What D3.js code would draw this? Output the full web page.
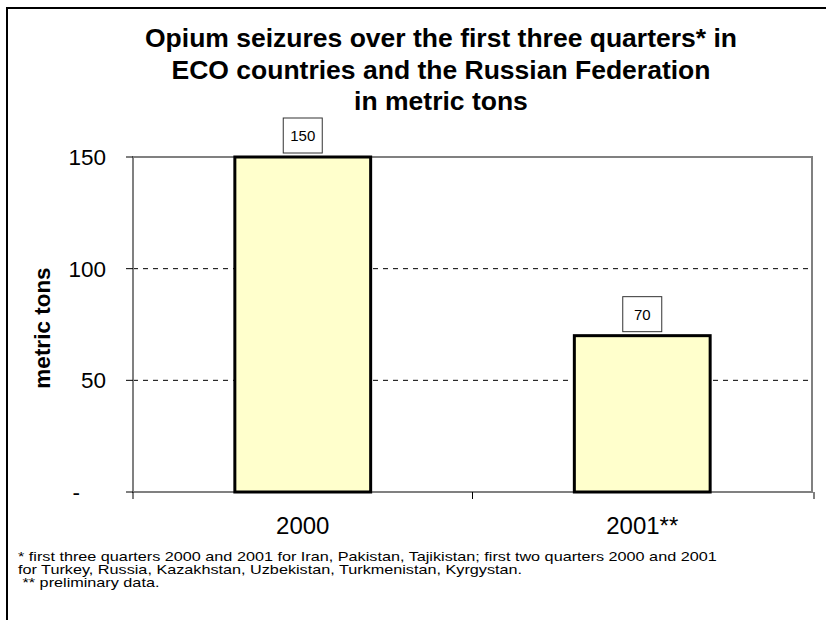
<!DOCTYPE html>
<html>
<head>
<meta charset="utf-8">
<script src="https://cdn.jsdelivr.net/npm/d3@7"></script>
<style>
  body { margin: 0; background: #fff; }
  text { font-family: Arial, "Liberation Sans", sans-serif; }
</style>
</head>
<body>
<div id="chart"></div>
<script>
// Dades
const years = ["2000", "2001**"];
const seizures = [150, 70];
const yTicks = [0, 50, 100, 150];
const titleLines = [
    "Opium seizures over the first three quarters* in",
    "ECO countries and the Russian Federation",
    "in metric tons"
];
const footnotes = [
    "* first three quarters 2000 and 2001 for Iran, Pakistan, Tajikistan; first two quarters 2000 and 2001",
    "for Turkey, Russia, Kazakhstan, Uzbekistan, Turkmenistan, Kyrgystan.",
    " ** preliminary data."
];

const W = 826, H = 620;
const plot = { left: 133, top: 157, right: 812, bottom: 492 };

const svg = d3.select("#chart")
    .append("svg")
        .attr("width", W)
        .attr("height", H);

// Marc exterior
svg.append("rect")
    .attr("x", 7).attr("y", 8)
    .attr("width", 840).attr("height", 640)
    .attr("fill", "none")
    .attr("stroke", "#000")
    .attr("stroke-width", 2);

// Escales
const x = d3.scaleBand()
    .domain(years)
    .range([plot.left, plot.right])
    .paddingInner(0)
    .paddingOuter(0);

const y = d3.scaleLinear()
    .domain([0, 150])
    .range([plot.bottom, plot.top]);

const barW = x.bandwidth() * 0.4;

// Línies de graella
svg.selectAll("line.grid")
    .data(yTicks.filter(d => d > 0 && d < 150))
    .enter()
    .append("line")
        .attr("class", "grid")
        .attr("x1", plot.left).attr("x2", plot.right)
        .attr("y1", d => y(d)).attr("y2", d => y(d))
        .attr("stroke", "#000")
        .attr("stroke-width", 1)
        .attr("stroke-dasharray", "5,5");

// Vora de l'àrea del gràfic
svg.append("rect")
    .attr("x", plot.left).attr("y", plot.top)
    .attr("width", plot.right - plot.left)
    .attr("height", plot.bottom - plot.top)
    .attr("fill", "none")
    .attr("stroke", "#808080")
    .attr("stroke-width", 2);

// Barres
svg.selectAll("rect.bar")
    .data(seizures)
    .enter()
    .append("rect")
        .attr("class", "bar")
        .attr("x", (d, i) => x(years[i]) + x.bandwidth() / 2 - barW / 2)
        .attr("y", d => y(d))
        .attr("width", barW)
        .attr("height", d => y(0) - y(d))
        .attr("fill", "#FFFFCC")
        .attr("stroke", "#000")
        .attr("stroke-width", 3);

// Etiquetes de valor amb caixa
const labels = svg.selectAll("g.lbl")
    .data(seizures)
    .enter()
    .append("g")
        .attr("class", "lbl")
        .attr("transform", (d, i) => `translate(${x(years[i]) + x.bandwidth() / 2}, ${y(d) - 4})`);

labels.append("rect")
    .attr("x", -19.5).attr("y", -35)
    .attr("width", 39).attr("height", 35)
    .attr("fill", "#fff")
    .attr("stroke", "#333")
    .attr("stroke-width", 1);

labels.append("text")
    .attr("x", 0).attr("y", -12)
    .attr("text-anchor", "middle")
    .style("font-size", "15px")
    .text(d => d);

// Eix Y
const yAxis = svg.append("g")
    .attr("transform", `translate(${plot.left}, 0)`);

yAxis.selectAll("line")
    .data(yTicks)
    .enter()
    .append("line")
        .attr("x1", -7).attr("x2", 0)
        .attr("y1", d => y(d)).attr("y2", d => y(d))
        .attr("stroke", "#000");

// el zero es mostra com un guió, no alineat a la dreta
yAxis.selectAll("text")
    .data(yTicks)
    .enter()
    .append("text")
        .attr("x", d => d === 0 ? -53 : -27)
        .attr("y", d => y(d) + 8)
        .attr("text-anchor", "end")
        .style("font-size", "22.5px")
        .text(d => d === 0 ? "-" : d);

// Eix X
const xTickPos = [plot.left, plot.left + x.bandwidth(), plot.right + 2];
svg.selectAll("line.xtick")
    .data(xTickPos)
    .enter()
    .append("line")
        .attr("class", "xtick")
        .attr("x1", d => d).attr("x2", d => d)
        .attr("y1", plot.bottom).attr("y2", plot.bottom + 7)
        .attr("stroke", "#000");

svg.selectAll("text.xlab")
    .data(years)
    .enter()
    .append("text")
        .attr("class", "xlab")
        .attr("x", d => x(d) + x.bandwidth() / 2)
        .attr("y", 534)
        .attr("text-anchor", "middle")
        .style("font-size", "24px")
        .text(d => d);

// Títol de l'eix Y
svg.append("text")
    .attr("transform", "translate(50, 328) rotate(-90)")
    .attr("text-anchor", "middle")
    .style("font-size", "22.5px")
    .style("font-weight", "bold")
    .text("metric tons");

// Títol
svg.selectAll("text.title")
    .data(titleLines)
    .enter()
    .append("text")
        .attr("class", "title")
        .attr("x", 441)
        .attr("y", (d, i) => 47 + i * 31.5)
        .attr("text-anchor", "middle")
        .style("font-size", "26.5px")
        .style("font-weight", "bold")
        .text(d => d);

// Notes al peu (estirades horitzontalment per ajustar l'amplada)
const foot = svg.append("g");
foot.selectAll("text")
    .data(footnotes)
    .enter()
    .append("text")
        .attr("x", 0)
        .attr("y", (d, i) => 561 + i * 13)
        .style("white-space", "pre")
        .style("font-size", "13px")
        .text(d => d);

const firstLen = foot.select("text").node().getComputedTextLength();
const k = 699 / firstLen;
foot.attr("transform", `translate(18, 0) scale(${k}, 1)`);
</script>
</body>
</html>
